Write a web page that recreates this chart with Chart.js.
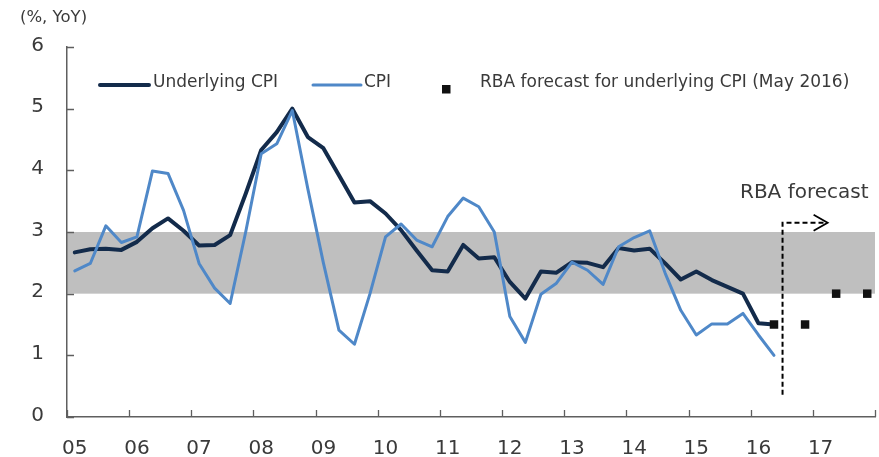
<!DOCTYPE html>
<html><head><meta charset="utf-8">
<script src="https://cdn.jsdelivr.net/npm/chart.js@4/dist/chart.umd.min.js"></script>
<style>html,body{margin:0;padding:0;background:#fff;}#wrap{width:879px;height:457px;}</style>
</head><body><div id="wrap"><canvas id="c" width="879" height="457"></canvas></div>
<script>
// ---- data ----
const years = ['05','06','07','08','09','10','11','12','13','14','15','16','17'];
const quarters = ['Q1','Q2','Q3','Q4'];
const categories = years.flatMap(y => quarters.map(q => y + q));
const underlyingCPI = [2.67,2.72,2.73,2.71, 2.84,3.06,3.22,3.02, 2.78,2.79,2.95,3.62,
  4.33,4.62,5.00,4.54, 4.36,3.92,3.48,3.50, 3.30,3.03,2.70,2.38, 2.36,2.79,2.57,2.59,
  2.19,1.92,2.36,2.34, 2.51,2.50,2.43,2.74, 2.70,2.73,2.49,2.23, 2.36,2.22,2.11,2.00,
  1.52,1.50];
const headlineCPI = [2.37,2.49,3.10,2.83, 2.92,3.99,3.95,3.35, 2.49,2.09,1.84,3.00,
  4.27,4.43,4.97,3.70, 2.50,1.41,1.18,2.00, 2.92,3.13,2.87,2.76, 3.25,3.55,3.41,3.00,
  1.63,1.21,1.99,2.17, 2.51,2.38,2.15,2.76, 2.91,3.02,2.33,1.73, 1.33,1.51,1.51,1.68,
  1.33,1.00];
const forecastQuarters = ['16Q2','16Q4','17Q2','17Q4'];
const forecastValues = [1.5,1.5,2.0,2.0];
const targetBand = [2, 3];
const seriesNames = ['Underlying CPI','CPI','RBA forecast for underlying CPI (May 2016)'];

// ---- styles ----
const FONT = '"DejaVu Sans", Verdana, sans-serif';
const TXT = '#3a3a3a';
const AXIS = '#5f5f5f';
const DARK = '#132b4b';
const BLUE = '#4f88c8';

const decor = {
  id: 'decor',
  beforeDraw(chart) {
    const {ctx, chartArea: a, scales: {y}} = chart;
    ctx.save();
    ctx.fillStyle = '#bfbfbf';
    const yt = y.getPixelForValue(targetBand[1]), yb = y.getPixelForValue(targetBand[0]);
    ctx.fillRect(a.left, yt, a.right - a.left, yb - yt);
    ctx.restore();
  },
  afterDraw(chart) {
    const {ctx, chartArea: a, scales: {x, y}} = chart;
    ctx.save();
    // inward tick marks
    ctx.strokeStyle = AXIS; ctx.lineWidth = 1.3;
    ctx.beginPath();
    for (let v = 0; v <= 6; v++) {
      const py = Math.round(y.getPixelForValue(v)) + 0.5;
      ctx.moveTo(a.left, py); ctx.lineTo(a.left + 7, py);
    }
    for (let i = 0; i <= categories.length; i += 4) {
      const px = Math.round(x.getPixelForValue(i - 0.5)) + 0.5;
      ctx.moveTo(px, a.bottom); ctx.lineTo(px, a.bottom - 7);
    }
    ctx.stroke();

    // forecast arrow
    const vx = x.getPixelForValue(45.55);
    const yTop = y.getPixelForValue(3.15), yBot = y.getPixelForValue(0.36);
    const tipX = x.getPixelForValue(48.45);
    ctx.strokeStyle = '#000'; ctx.lineWidth = 2;
    ctx.setLineDash([5, 3]);
    ctx.beginPath();
    ctx.moveTo(vx, yBot); ctx.lineTo(vx, yTop); ctx.lineTo(tipX - 2, yTop);
    ctx.stroke();
    ctx.setLineDash([]);
    ctx.lineWidth = 1.8;
    ctx.beginPath();
    ctx.moveTo(tipX - 14, yTop - 8); ctx.lineTo(tipX, yTop); ctx.lineTo(tipX - 14, yTop + 8);
    ctx.stroke();

    ctx.fillStyle = TXT;
    ctx.font = '20px ' + FONT;
    ctx.textAlign = 'left'; ctx.textBaseline = 'alphabetic';
    ctx.fillText('RBA forecast', 740, 198);

    // unit label
    ctx.font = '16.5px ' + FONT;
    ctx.textBaseline = 'middle';
    ctx.fillText('(%, YoY)', 20, 18);

    // legend
    const ds = chart.data.datasets;
    ctx.lineCap = 'round';
    ctx.strokeStyle = ds[0].borderColor; ctx.lineWidth = ds[0].borderWidth;
    ctx.beginPath(); ctx.moveTo(100, 85); ctx.lineTo(149, 85); ctx.stroke();
    ctx.strokeStyle = ds[1].borderColor; ctx.lineWidth = ds[1].borderWidth;
    ctx.beginPath(); ctx.moveTo(313, 85); ctx.lineTo(361, 85); ctx.stroke();
    ctx.fillStyle = ds[2].backgroundColor;
    ctx.fillRect(442, 85, 8.5, 8.5);
    ctx.fillStyle = TXT;
    ctx.font = '17px ' + FONT;
    ctx.textBaseline = 'alphabetic';
    ctx.fillText(ds[0].label, 153, 87);
    ctx.fillText(ds[1].label, 364, 87);
    ctx.fillText(ds[2].label, 480, 87);
    ctx.restore();
  }
};

new Chart(document.getElementById('c'), {
  type: 'line',
  data: {
    labels: categories,
    datasets: [
      { label: seriesNames[0], data: underlyingCPI, borderColor: DARK, backgroundColor: DARK,
        borderWidth: 4, pointRadius: 0, tension: 0, borderJoinStyle: 'round', borderCapStyle: 'round', order: 3 },
      { label: seriesNames[1], data: headlineCPI, borderColor: BLUE, backgroundColor: BLUE,
        borderWidth: 3, pointRadius: 0, tension: 0, borderJoinStyle: 'round', borderCapStyle: 'round', order: 2 },
      { label: seriesNames[2], data: forecastQuarters.map((q, i) => ({x: q, y: forecastValues[i]})),
        showLine: false, pointStyle: 'rect', pointRadius: 6, pointBorderWidth: 0,
        backgroundColor: '#111', borderColor: '#111', order: 1 }
    ]
  },
  options: {
    responsive: false, animation: false, devicePixelRatio: 1,
    layout: { autoPadding: false, padding: { top: 47, right: 4, left: 0, bottom: 0 } },
    plugins: { legend: { display: false }, tooltip: { enabled: false } },
    scales: {
      x: {
        type: 'category', offset: true,
        grid: { display: false, drawTicks: false },
        border: { display: true, color: AXIS, width: 1.5 },
        ticks: { autoSkip: false, maxRotation: 0, minRotation: 0, padding: 20,
          color: TXT, font: { family: FONT, size: 20 },
          callback: function(v, i) { const c = categories[i]; return c.endsWith('Q1') ? c.slice(0, 2) : ''; } },
        afterFit: s => { s.height = 40; s.paddingLeft = 0; s.paddingRight = 0; }
      },
      y: {
        min: 0, max: 6,
        grid: { display: false, drawTicks: false },
        border: { display: true, color: AXIS, width: 1.5 },
        ticks: { stepSize: 1, padding: 23, labelOffset: -1.5, color: TXT, font: { family: FONT, size: 20 } },
        afterFit: s => { s.width = 67; s.paddingTop = 0; s.paddingBottom = 0; }
      }
    }
  },
  plugins: [decor]
});
</script>
</body></html>
